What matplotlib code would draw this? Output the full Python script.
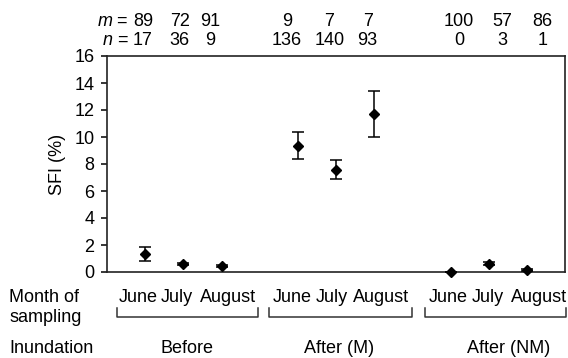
import matplotlib
matplotlib.use("Agg")
import matplotlib.pyplot as plt
from matplotlib.transforms import blended_transform_factory

plt.rcParams['font.family'] = ['Liberation Sans', 'DejaVu Sans']
plt.rcParams['mathtext.fontset'] = 'custom'
plt.rcParams['mathtext.it'] = 'Liberation Sans:italic'
plt.rcParams['mathtext.rm'] = 'Liberation Sans'

# data
months = ["June", "July", "August"]
groups = ["Before", "After (M)", "After (NM)"]
sfi_mean = [1.35, 0.59, 0.47, 9.37, 7.57, 11.7, 0.0, 0.61, 0.17]
sfi_err = [0.5, 0.1, 0.07, 1.0, 0.7, 1.7, 0.0, 0.1, 0.08]
m_counts = [89, 72, 91, 9, 7, 7, 100, 57, 86]
n_counts = [17, 36, 9, 136, 140, 93, 0, 3, 1]
y_ticks = [0, 2, 4, 6, 8, 10, 12, 14, 16]

# layout (x in axis units, 0..12)
xpos = [1, 2, 3, 5, 6, 7, 9, 10, 11]
count_x = [0.94, 1.91, 2.70, 4.72, 5.83, 6.83, 9.22, 10.36, 11.41]
month_x = [0.83, 1.83, 3.17, 4.85, 5.89, 7.18, 8.95, 9.98, 11.32]
brackets = [(0.25, 3.96), (4.24, 7.99), (8.33, 12.03)]
group_x = [2.10, 6.09, 10.51]

fs = 13
fig = plt.figure(figsize=(5.68, 3.58), dpi=100)
ax = fig.add_axes([107 / 568, 1 - 272 / 358, 458 / 568, 216 / 358])

ax.errorbar(xpos, sfi_mean, yerr=sfi_err, fmt='D', color='black',
            ms=5.5, capsize=4.5, elinewidth=1.1, capthick=1.1, clip_on=False,
            zorder=5)

ax.set_xlim(0, 12)
ax.set_ylim(0, 16)
ax.set_yticks(y_ticks)
ax.set_xticks([])
ax.tick_params(axis='y', direction='out', length=4, width=1.1,
               labelsize=fs, pad=5)
for s in ax.spines.values():
    s.set_linewidth(1.2)
    s.set_color('#222222')
ax.set_ylabel("SFI (%)", fontsize=fs, labelpad=6)

tr = blended_transform_factory(ax.transData, fig.transFigure)

# m / n counts above plot
y_m = 1 - 26 / 358
y_n = 1 - 45 / 358
ax.text(0.56, y_m, "$m$ =", transform=tr, ha='right', va='baseline', fontsize=fs)
ax.text(0.56, y_n, "$n$ =", transform=tr, ha='right', va='baseline', fontsize=fs)
for x, m, n in zip(count_x, m_counts, n_counts):
    ax.text(x, y_m, str(m), transform=tr, ha='center', va='baseline', fontsize=fs)
    ax.text(x, y_n, str(n), transform=tr, ha='center', va='baseline', fontsize=fs)

# month labels, brackets and groups below plot
y_month = 1 - 302 / 358
for i, x in enumerate(month_x):
    ax.text(x, y_month, months[i % 3], transform=tr, ha='center',
            va='baseline', fontsize=fs)

yb = 1 - 317 / 358
yb_top = 1 - 308 / 358
for x0, x1 in brackets:
    ax.plot([x0, x0, x1, x1], [yb_top, yb, yb, yb_top], transform=tr,
            color='#333333', lw=1.1, clip_on=False)

y_group = 1 - 353 / 358
for x, g in zip(group_x, groups):
    ax.text(x, y_group, g, transform=tr, ha='center', va='baseline', fontsize=fs)

fig.text(9 / 568, y_month, "Month of", ha='left', va='baseline', fontsize=fs)
fig.text(9 / 568, 1 - 322 / 358, "sampling", ha='left', va='baseline', fontsize=fs)
fig.text(9 / 568, y_group, "Inundation", ha='left', va='baseline', fontsize=fs)

fig.savefig("out.png", dpi=100)
